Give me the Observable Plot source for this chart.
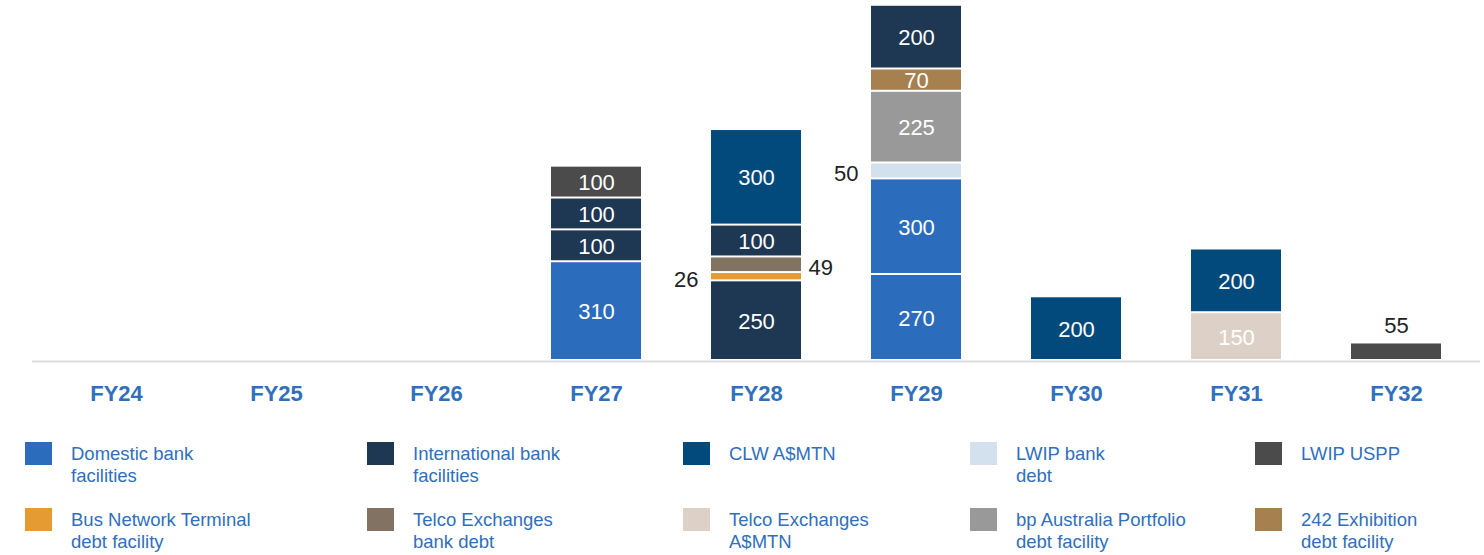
<!DOCTYPE html>
<html>
<head>
<meta charset="utf-8">
<script src="https://cdn.jsdelivr.net/npm/d3@7"></script>
<script src="https://cdn.jsdelivr.net/npm/@observablehq/plot@0.6"></script>
<style>
  html, body { margin: 0; padding: 0; background: #fff; }
  #wrap { position: relative; width: 1484px; height: 555px; font-family: "Liberation Sans", Arial, sans-serif; }
  #legend { position: absolute; left: 0; top: 425px; width: 1484px; height: 130px; }
  .item { position: absolute; width: 280px; height: 50px; }
  .sw { position: absolute; left: 0; top: 0; width: 27px; height: 23px; }
  .lab { position: absolute; left: 46px; top: 1px; white-space: pre; color: #2f6fbd; font-size: 18.5px; line-height: 22px; }
</style>
</head>
<body>
<div id="wrap"><div id="chart"></div><div id="legend"></div></div>
<script>
const categories = ["FY24","FY25","FY26","FY27","FY28","FY29","FY30","FY31","FY32"];
const seriesNames = [
  "Domestic bank facilities", "International bank facilities", "CLW A$MTN", "LWIP bank debt", "LWIP USPP",
  "Bus Network Terminal debt facility", "Telco Exchanges bank debt", "Telco Exchanges A$MTN",
  "bp Australia Portfolio debt facility", "242 Exhibition debt facility"
];
const legendLabels = [
  "Domestic bank\nfacilities", "International bank\nfacilities", "CLW A$MTN", "LWIP bank\ndebt", "LWIP USPP",
  "Bus Network Terminal\ndebt facility", "Telco Exchanges\nbank debt", "Telco Exchanges\nA$MTN",
  "bp Australia Portfolio\ndebt facility", "242 Exhibition\ndebt facility"
];
const seriesColors = ["#2b6cbd","#1e3752","#034a7c","#d3e1ef","#4b4b4b","#e39b32","#827261","#ddd1c7","#999999","#a6804f"];

// stacked segments, bottom to top within each year
const segYear   = ["FY27","FY27","FY27","FY27","FY28","FY28","FY28","FY28","FY28","FY29","FY29","FY29","FY29","FY29","FY29","FY30","FY31","FY31","FY32"];
const segSeries = [0,1,1,4, 1,5,6,1,2, 0,0,3,8,9,1, 2, 7,2, 4];
const segValue  = [310,100,100,100, 250,26,49,100,300, 270,300,50,225,70,200, 200, 150,200, 55];
const segLabel  = ["in","in","in","in", "in","left","right","in","in", "in","in","left","in","in","in", "in", "in","in", "top"];

const segments = segYear.map((y, i) => ({
  year: y, series: seriesNames[segSeries[i]], value: segValue[i], place: segLabel[i]
}));

const plot = Plot.plot({
  width: 1484,
  height: 425,
  marginLeft: 32,
  marginRight: 4,
  marginTop: 0,
  marginBottom: 65,
  style: { fontFamily: "Liberation Sans, Arial, sans-serif", background: "#fff" },
  x: { domain: categories, paddingInner: 0.44, paddingOuter: 0.22, label: null },
  y: { domain: [0, 1130], axis: null },
  color: { domain: seriesNames, range: seriesColors },
  marks: [
    Plot.ruleY([0], { stroke: "#dcdcdc", strokeWidth: 2, dy: 1 }),
    Plot.barY(segments, Plot.stackY({ x: "year", y: "value", fill: "series", insetTop: 1, insetBottom: 1 })),
    Plot.text(segments, Plot.stackY({ x: "year", y: "value", text: d => d.place === "in" ? String(d.value) : null,
      fill: "white", fontSize: 22, dy: 1 })),
    Plot.text(segments, Plot.stackY({ x: "year", y: "value", text: d => d.place === "left" ? String(d.value) : null,
      fill: "#222", fontSize: 22, textAnchor: "end", dx: -58, dy: 3 })),
    Plot.text(segments, Plot.stackY({ x: "year", y: "value", text: d => d.place === "right" ? String(d.value) : null,
      fill: "#222", fontSize: 22, textAnchor: "start", dx: 52, dy: 3 })),
    Plot.text(segments, Plot.stackY2({ x: "year", y: "value", text: d => d.place === "top" ? String(d.value) : null,
      fill: "#222", fontSize: 22, dy: -17 })),
    Plot.axisX({ tickSize: 0, tickPadding: 25, fontSize: 22, fontWeight: "bold", fill: "#2f6fbd", label: null })
  ]
});
document.getElementById("chart").appendChild(plot);

// legend
const colX = [25, 367, 683, 970, 1255];
const rowY = [17, 83];
const legend = document.getElementById("legend");
seriesNames.forEach((name, i) => {
  const item = document.createElement("div");
  item.className = "item";
  item.style.left = colX[i % 5] + "px";
  item.style.top = rowY[Math.floor(i / 5)] + "px";
  const sw = document.createElement("div");
  sw.className = "sw";
  sw.style.background = seriesColors[i];
  const lab = document.createElement("div");
  lab.className = "lab";
  lab.textContent = legendLabels[i];
  item.appendChild(sw); item.appendChild(lab);
  legend.appendChild(item);
});
</script>
</body>
</html>
